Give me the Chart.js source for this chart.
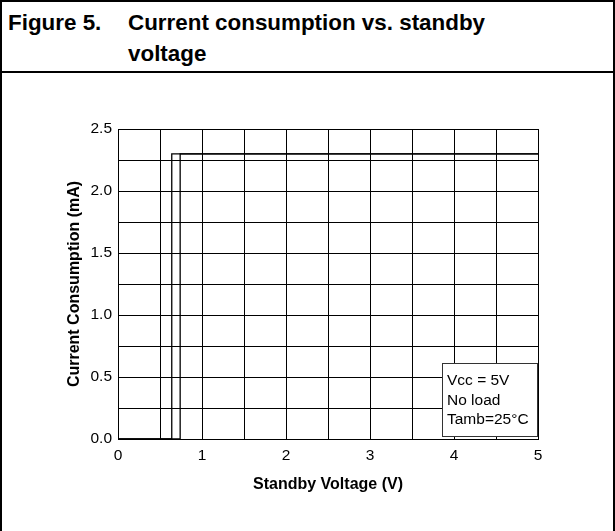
<!DOCTYPE html>
<html>
<head>
<meta charset="utf-8">
<script src="https://cdn.jsdelivr.net/npm/chart.js@4"></script>
<style>
  body { margin: 0; background: #fff; font-family: "Liberation Sans", Arial, sans-serif; }
  #frame { position: absolute; left: 0; top: 0; width: 611px; height: 545px;
           border: 2px solid #000; border-bottom: none; }
  #head { position: absolute; left: 0; top: 0; width: 611px; height: 69px;
          border-bottom: 2px solid #000; }
  .t { position: absolute; font-weight: bold; font-size: 22.4px; line-height: 31px; color: #000; white-space: nowrap; }
  #wrap { position: absolute; left: 0; top: 0; width: 615px; height: 531px; }
</style>
</head>
<body>
<div id="frame">
  <div id="head">
    <div class="t" style="left:6px; top:5px;">Figure 5.</div>
    <div class="t" style="left:126px; top:5px;">Current consumption vs. standby<br>voltage</div>
  </div>
</div>
<div id="wrap"><canvas id="graph" width="615" height="531"></canvas></div>
<script>
// step curves
const voltsA = [0, 0.64, 0.64, 5];
const currentA = [0, 0, 2.30, 2.30];
const voltsB = [0, 0.74, 0.74, 5];
const currentB = [0, 0, 2.30, 2.30];

const xTickLabels = ['0', '1', '2', '3', '4', '5'];
const yTickLabels = ['0.0', '0.5', '1.0', '1.5', '2.0', '2.5'];
const noteLines = ['Vcc = 5V', 'No load', 'Tamb=25°C'];

const toPoints = (xs, ys) => xs.map((x, i) => ({ x: x, y: ys[i] }));

const noteBox = {
    id: 'noteBox',
    afterDraw(chart) {
        const ctx = chart.ctx;
        const area = chart.chartArea;
        const w = 96, h = 74;
        const x = area.right - w, y = area.bottom - 2 - h;
        ctx.save();
        ctx.fillStyle = '#fff';
        ctx.fillRect(x, y, w, h);
        ctx.strokeStyle = '#333';
        ctx.lineWidth = 1;
        ctx.strokeRect(x + 0.5, y + 0.5, w - 1, h - 1);
        ctx.fillStyle = '#000';
        ctx.font = '15.5px "Liberation Sans", Arial, sans-serif';
        ctx.textBaseline = 'alphabetic';
        noteLines.forEach((t, i) => ctx.fillText(t, x + 5, y + 22 + i * 19.5));
        ctx.restore();
    }
};

new Chart(document.getElementById('graph'), {
    type: 'scatter',
    data: {
        datasets: [
            { data: toPoints(voltsA, currentA), showLine: true, borderColor: '#000', borderWidth: 1.3, pointRadius: 0, tension: 0 },
            { data: toPoints(voltsB, currentB), showLine: true, borderColor: '#000', borderWidth: 1.3, pointRadius: 0, tension: 0 }
        ]
    },
    options: {
        responsive: false,
        animation: false,
        devicePixelRatio: 1,
        layout: { padding: { top: 129, right: 77, left: 0, bottom: 0 } },
        plugins: { legend: { display: false }, tooltip: { enabled: false } },
        scales: {
            x: {
                type: 'linear', min: 0, max: 5,
                afterFit: (s) => { s.height = 92; },
                ticks: {
                    stepSize: 0.5, autoSkip: false, maxRotation: 0, padding: 7,
                    color: '#000', font: { size: 15.5, family: '"Liberation Sans", Arial' },
                    callback: (v) => Number.isInteger(v) ? xTickLabels[v] : ''
                },
                grid: { color: '#000', lineWidth: 1, drawTicks: false },
                border: { color: '#000', width: 1 },
                title: {
                    display: true, text: 'Standby Voltage (V)', color: '#000',
                    font: { size: 16, weight: 'bold', family: '"Liberation Sans", Arial' },
                    padding: { top: 0, bottom: 37 }
                }
            },
            y: {
                min: 0, max: 2.5,
                afterFit: (s) => { s.width = 118; },
                ticks: {
                    stepSize: 0.25, autoSkip: false, padding: 6,
                    color: '#000', font: { size: 15.5, family: '"Liberation Sans", Arial' },
                    callback: (v) => {
                        const k = Math.round(v / 0.5);
                        return Math.abs(v - k * 0.5) < 1e-6 ? yTickLabels[k] : '';
                    }
                },
                grid: { color: '#000', lineWidth: 1, drawTicks: false },
                border: { color: '#000', width: 1 },
                title: {
                    display: true, text: 'Current Consumption (mA)', color: '#000',
                    font: { size: 16, weight: 'bold', family: '"Liberation Sans", Arial' },
                    padding: { top: 65, bottom: 0 }
                }
            }
        }
    },
    plugins: [noteBox]
});
</script>
</body>
</html>
